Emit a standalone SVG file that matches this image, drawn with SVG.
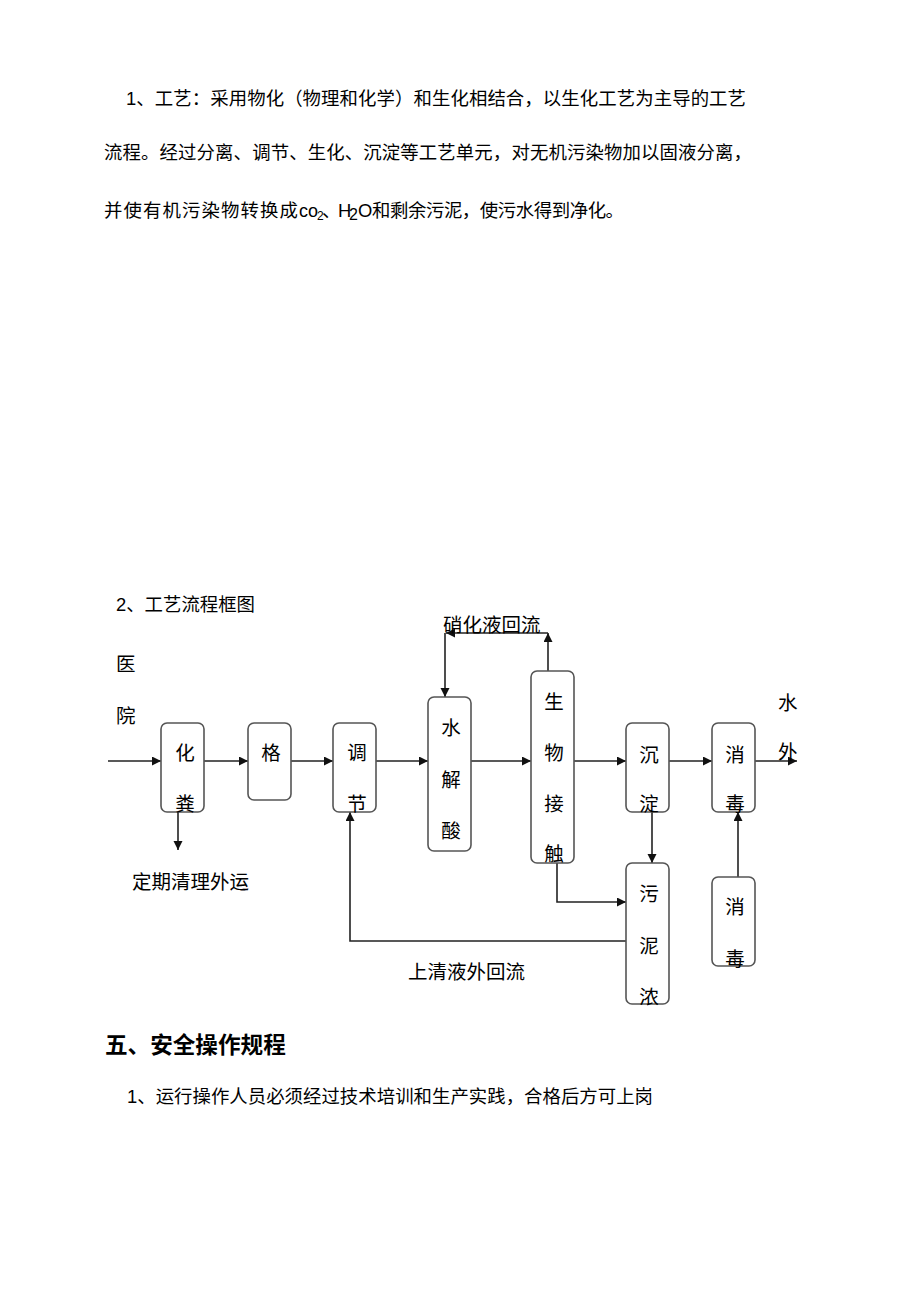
<svg xmlns="http://www.w3.org/2000/svg" width="920" height="1301" viewBox="0 0 920 1301">
<style>
.t{font-family:"Liberation Sans","Noto Sans CJK SC",sans-serif;font-size:18.4px;fill:#000}
.h{font-family:"Liberation Sans","Noto Sans CJK SC",sans-serif;font-size:22.6px;font-weight:bold;fill:#000}
.l{font-family:"Noto Sans CJK SC",sans-serif;font-size:19.5px;fill:#000}
.b{font-family:"Noto Sans CJK SC",sans-serif;font-size:19.5px;fill:#000;text-anchor:middle}
.box{fill:#fff;stroke:#555;stroke-width:1.6}
.c{fill:none;stroke:#222;stroke-width:1.6}
</style>
<defs>
<marker id="ah" markerUnits="userSpaceOnUse" markerWidth="10" markerHeight="10" refX="9" refY="4.5" orient="auto">
<path d="M0,0 L9,4.5 L0,9 z" fill="#111"/>
</marker>
</defs>
<rect width="920" height="1301" fill="#fff"/>
<text class="t" x="126" y="105" textLength="620" lengthAdjust="spacing">1、工艺：采用物化（物理和化学）和生化相结合，以生化工艺为主导的工艺</text>
<text class="t" x="104" y="159" textLength="648" lengthAdjust="spacing">流程。经过分离、调节、生化、沉淀等工艺单元，对无机污染物加以固液分离，</text>
<text class="t" y="217"><tspan x="104" textLength="194" lengthAdjust="spacing">并使有机污染物转换成</tspan><tspan x="299" font-size="18">co</tspan><tspan x="317" dy="3" font-size="12">2</tspan><tspan x="322" dy="-3">、</tspan><tspan x="338">H</tspan><tspan x="349" dy="3" font-size="16">2</tspan><tspan x="358" dy="-3">O</tspan><tspan x="372" textLength="252" lengthAdjust="spacing">和剩余污泥，使污水得到净化。</tspan></text>
<text class="t" x="116" y="611">2、工艺流程框图</text>
<g id="connectors">
<path class="c" d="M108,761 H161" marker-end="url(#ah)"/>
<path class="c" d="M204,761 H248" marker-end="url(#ah)"/>
<path class="c" d="M291,761 H333" marker-end="url(#ah)"/>
<path class="c" d="M376,761 H428" marker-end="url(#ah)"/>
<path class="c" d="M471,761 H531" marker-end="url(#ah)"/>
<path class="c" d="M574,761 H626" marker-end="url(#ah)"/>
<path class="c" d="M669,761 H712" marker-end="url(#ah)"/>
<path class="c" d="M755,761 H797" marker-end="url(#ah)"/>
<path class="c" d="M178,812 V850" marker-end="url(#ah)"/>
<path class="c" d="M626,941 H350 V812" marker-end="url(#ah)"/>
<path class="c" d="M548,671 V633" marker-end="url(#ah)"/>
<path class="c" d="M548,633 H446" marker-end="url(#ah)"/>
<path class="c" d="M445,633 V697" marker-end="url(#ah)"/>
<path class="c" d="M557,863 V902 H626" marker-end="url(#ah)"/>
<path class="c" d="M652,812 V863" marker-end="url(#ah)"/>
<path class="c" d="M738,877 V812" marker-end="url(#ah)"/>
</g>
<g id="n-hospital"><text class="l" x="116" y="671">医</text><text class="l" x="116" y="723">院</text></g>
<g id="n-huafen"><rect class="box" x="161" y="723" width="43" height="89" rx="6"/><text class="b" x="185" y="760">化</text><text class="b" x="185" y="811">粪</text></g>
<g id="n-ge"><rect class="box" x="248" y="723" width="43" height="77" rx="6"/><text class="b" x="271" y="760">格</text></g>
<g id="n-tiaojie"><rect class="box" x="333" y="723" width="43" height="89" rx="6"/><text class="b" x="357" y="760">调</text><text class="b" x="357" y="811">节</text></g>
<g id="n-shuijie"><rect class="box" x="428" y="697" width="43" height="154" rx="6"/><text class="b" x="451" y="735">水</text><text class="b" x="451" y="787">解</text><text class="b" x="451" y="838">酸</text></g>
<g id="n-shengwu"><rect class="box" x="531" y="671" width="43" height="192" rx="6"/><text class="b" x="554" y="709">生</text><text class="b" x="554" y="760">物</text><text class="b" x="554" y="811">接</text><text class="b" x="554" y="861">触</text></g>
<g id="n-chendian"><rect class="box" x="626" y="723" width="43" height="89" rx="6"/><text class="b" x="649" y="762">沉</text><text class="b" x="649" y="811">淀</text></g>
<g id="n-xiaodu1"><rect class="box" x="712" y="723" width="43" height="89" rx="6"/><text class="b" x="735" y="762">消</text><text class="b" x="735" y="811">毒</text></g>
<g id="n-wuni"><rect class="box" x="626" y="863" width="43" height="141" rx="6"/><text class="b" x="649" y="901">污</text><text class="b" x="649" y="953">泥</text><text class="b" x="649" y="1004">浓</text></g>
<g id="n-xiaodu2"><rect class="box" x="712" y="877" width="43" height="89" rx="6"/><text class="b" x="735" y="914">消</text><text class="b" x="735" y="966">毒</text></g>
<g id="labels">
<text class="l" x="443" y="632">硝化液回流</text>
<text class="l" x="132" y="889">定期清理外运</text>
<text class="l" x="408" y="979">上清液外回流</text>
<text class="l" x="778" y="710">水</text>
<text class="l" x="778" y="759">外</text>
</g>
<text class="h" x="105" y="1053">五、安全操作规程</text>
<text class="t" x="127" y="1103" textLength="526" lengthAdjust="spacing">1、运行操作人员必须经过技术培训和生产实践，合格后方可上岗</text>
</svg>
